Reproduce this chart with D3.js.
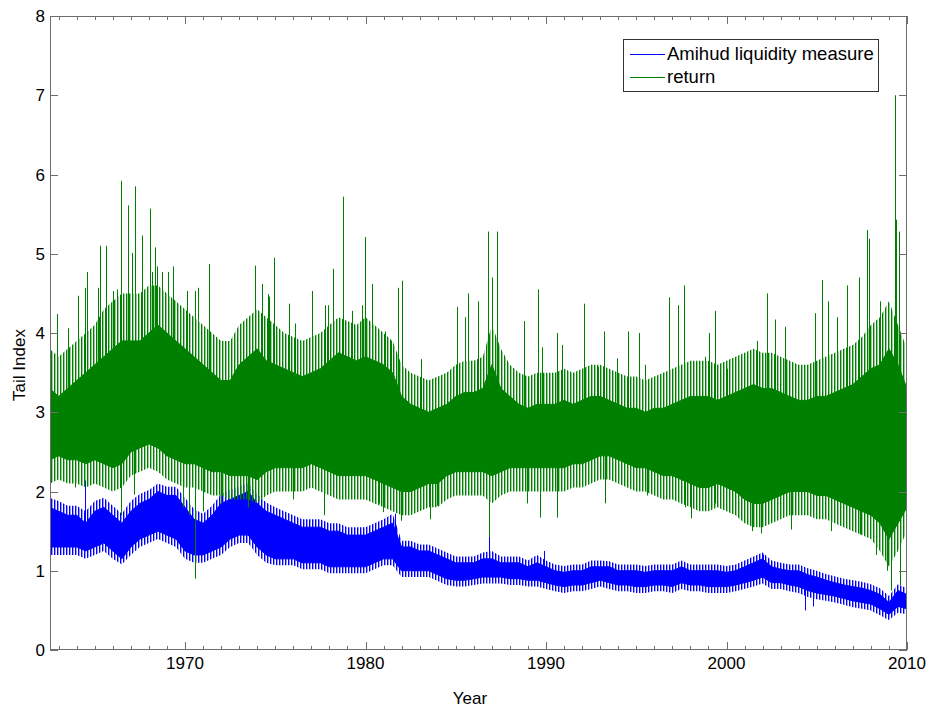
<!DOCTYPE html>
<html><head><meta charset="utf-8">
<script src="https://cdn.jsdelivr.net/npm/d3@7"></script>
<style>body{margin:0;background:#fff} text{font-family:"Liberation Sans",Arial,Helvetica,sans-serif;fill:#000}</style>
</head><body><svg id="c" width="930" height="710"></svg>
<script>
// ---- DATA ----
const halfYears = d3.range(1962.5, 2010.01, 0.5);
// return: dense band top / bottom, per half-year
const greenTop = [3.3,3.2,3.3,3.4,3.5,3.6,3.7,3.8,3.9,3.9,3.9,4.0,4.1,4.0,3.9,3.8,3.7,3.6,3.5,3.4,3.4,3.6,3.7,3.8,
 3.65,3.6,3.55,3.5,3.45,3.5,3.55,3.65,3.75,3.7,3.65,3.7,3.65,3.6,3.5,3.2,3.1,3.05,3.0,3.05,3.1,3.2,3.25,3.25,
 3.3,3.6,3.3,3.2,3.1,3.05,3.1,3.1,3.1,3.15,3.1,3.15,3.2,3.2,3.15,3.1,3.05,3.05,3.0,3.05,3.05,3.1,3.15,3.2,
 3.2,3.2,3.15,3.2,3.25,3.3,3.35,3.3,3.3,3.25,3.2,3.15,3.15,3.2,3.2,3.25,3.3,3.35,3.45,3.55,3.6,3.8,3.6,3.3];
const greenBottom = [2.4,2.45,2.4,2.4,2.35,2.4,2.35,2.3,2.35,2.5,2.55,2.6,2.55,2.45,2.4,2.35,2.35,2.3,2.25,2.25,2.2,2.2,2.2,2.15,
 2.25,2.3,2.3,2.3,2.3,2.35,2.3,2.25,2.2,2.2,2.2,2.2,2.15,2.1,2.05,2.0,2.0,2.05,2.1,2.1,2.2,2.25,2.25,2.25,
 2.25,2.2,2.25,2.3,2.3,2.3,2.3,2.3,2.3,2.3,2.35,2.35,2.4,2.45,2.45,2.4,2.35,2.3,2.3,2.25,2.2,2.2,2.15,2.1,
 2.05,2.05,2.1,2.05,2.0,1.9,1.85,1.85,1.9,1.95,2.0,2.0,2.0,1.95,1.95,1.9,1.85,1.8,1.75,1.7,1.6,1.4,1.6,1.8];
// return: outer (sparser) noise envelope, per half-year
const greenFringeTop = [3.8,3.7,3.8,3.9,4.0,4.1, 4.3,4.4,4.5,4.5,4.5,4.6, 4.6,4.5,4.4,4.3,4.2,4.1, 4.0,3.9,3.9,4.1,4.2,4.3,
 4.2,4.1,4.0,3.95,3.9,3.95, 4.0,4.1,4.2,4.15,4.1,4.2, 4.1,4.0,3.9,3.6,3.5,3.45, 3.4,3.45,3.5,3.6,3.65,3.65,
 3.7,4.1,3.8,3.6,3.5,3.45, 3.5,3.5,3.5,3.55,3.5,3.55, 3.6,3.6,3.55,3.5,3.45,3.45, 3.4,3.45,3.5,3.55,3.6,3.65,
 3.65,3.65,3.6,3.65,3.7,3.75, 3.8,3.75,3.75,3.7,3.65,3.6, 3.6,3.65,3.7,3.75,3.8,3.85, 3.95,4.1,4.2,4.4,4.1,3.8];
const greenFringeBottom = [2.1,2.15,2.1,2.1,2.05,2.1, 2.05,2.0,2.05,2.2,2.25,2.3, 2.25,2.15,2.1,2.05,2.05,2.0, 1.95,1.95,1.9,1.9,1.9,1.85,
 1.95,2.0,2.0,2.0,2.0,2.05, 2.0,1.95,1.9,1.9,1.9,1.9, 1.85,1.8,1.75,1.7,1.7,1.75, 1.8,1.8,1.9,1.95,1.95,1.95,
 1.95,1.85,1.95,2.0,2.0,2.0, 2.0,2.0,2.0,2.0,2.05,2.05, 2.1,2.15,2.15,2.1,2.05,2.0, 2.0,1.95,1.9,1.9,1.85,1.8,
 1.75,1.75,1.8,1.75,1.7,1.6, 1.55,1.55,1.6,1.65,1.7,1.7, 1.7,1.65,1.65,1.6,1.55,1.5, 1.45,1.4,1.25,1.05,1.25,1.5];
// Amihud liquidity measure: band top / bottom, per half-year
const blueTop = [1.8,1.75,1.7,1.7,1.6,1.75,1.8,1.7,1.6,1.75,1.85,1.9,2.0,1.95,1.95,1.8,1.65,1.6,1.7,1.85,1.9,1.95,2.0,1.85,
 1.75,1.7,1.65,1.6,1.55,1.55,1.55,1.5,1.5,1.45,1.45,1.45,1.5,1.55,1.6,1.3,1.3,1.25,1.25,1.2,1.15,1.1,1.1,1.1,
 1.15,1.15,1.1,1.1,1.1,1.05,1.1,1.05,1.0,0.98,1.0,1.0,1.05,1.05,1.05,1.0,1.0,1.0,0.98,1.0,1.0,1.0,1.05,1.0,
 1.0,1.0,1.0,0.98,1.0,1.05,1.1,1.15,1.05,1.02,1.0,1.0,0.95,0.92,0.88,0.85,0.82,0.8,0.78,0.75,0.7,0.6,0.75,0.7];
const blueBottom = [1.3,1.3,1.3,1.3,1.25,1.3,1.35,1.25,1.15,1.3,1.4,1.45,1.5,1.45,1.4,1.25,1.2,1.2,1.25,1.3,1.4,1.45,1.45,1.3,
 1.2,1.15,1.15,1.15,1.1,1.1,1.1,1.05,1.05,1.05,1.05,1.05,1.1,1.15,1.15,1.0,1.0,1.0,1.0,0.95,0.9,0.88,0.88,0.9,
 0.92,0.92,0.92,0.9,0.9,0.88,0.88,0.85,0.82,0.8,0.82,0.82,0.85,0.88,0.85,0.82,0.82,0.8,0.8,0.82,0.82,0.8,0.85,0.82,
 0.82,0.8,0.8,0.8,0.82,0.85,0.88,0.92,0.85,0.85,0.82,0.8,0.75,0.72,0.7,0.68,0.65,0.62,0.6,0.58,0.52,0.45,0.55,0.52];
const blueFringeTop = [1.92,1.88,1.82,1.82,1.75,1.88, 1.92,1.82,1.72,1.88,1.97,2.02, 2.1,2.06,2.06,1.92,1.78,1.72, 1.82,1.97,2.02,2.06,2.1,1.97,
 1.86,1.8,1.75,1.7,1.65,1.65, 1.65,1.6,1.6,1.55,1.55,1.55, 1.6,1.65,1.72,1.38,1.38,1.33, 1.33,1.28,1.23,1.18,1.18,1.18,
 1.23,1.25,1.18,1.18,1.18,1.13, 1.2,1.13,1.08,1.06,1.08,1.08, 1.13,1.13,1.12,1.08,1.08,1.08, 1.06,1.08,1.08,1.08,1.13,1.08,
 1.08,1.08,1.08,1.06,1.08,1.13, 1.18,1.23,1.13,1.1,1.08,1.08, 1.03,1.0,0.96,0.93,0.9,0.88, 0.86,0.83,0.78,0.68,0.83,0.78];
const blueFringeBottom = [1.2,1.2,1.2,1.2,1.15,1.2, 1.25,1.15,1.08,1.2,1.3,1.35, 1.4,1.35,1.3,1.15,1.1,1.1, 1.15,1.2,1.3,1.35,1.35,1.2,
 1.1,1.07,1.07,1.07,1.02,1.02, 1.02,0.97,0.97,0.97,0.97,0.97, 1.02,1.07,1.07,0.92,0.92,0.92, 0.92,0.87,0.82,0.8,0.8,0.82,
 0.84,0.84,0.84,0.82,0.82,0.8, 0.8,0.77,0.74,0.72,0.74,0.74, 0.77,0.8,0.77,0.74,0.74,0.72, 0.72,0.74,0.74,0.72,0.77,0.74,
 0.74,0.72,0.72,0.72,0.74,0.77, 0.8,0.84,0.77,0.77,0.74,0.72, 0.67,0.64,0.62,0.6,0.57,0.54, 0.52,0.5,0.44,0.38,0.47,0.45];
// isolated extremes [year, value]
const greenSpikesUp = [[1962.92,4.24],[1963.53,4.06],[1964.09,4.47],[1964.46,4.57],[1964.55,4.77],[1965.16,4.57],[1965.29,5.1],
 [1965.62,5.1],[1966.03,4.53],[1966.21,4.55],[1966.45,5.92],[1966.86,5.61],[1967.08,5.01],[1967.23,5.85],[1967.6,5.23],
 [1968.06,5.57],[1968.19,4.77],[1968.33,5.08],[1968.43,4.84],[1968.71,4.77],[1969.04,4.77],[1969.36,4.84],[1970.13,4.53],
 [1970.56,4.53],[1970.74,4.57],[1971.33,4.87],[1973.88,4.85],[1974.25,4.62],[1974.58,4.49],[1974.65,4.46],[1974.93,4.95],
 [1975.76,4.37],[1976.09,4.12],[1977.02,4.53],[1977.75,4.35],[1977.94,4.35],[1978.18,4.81],[1978.77,5.72],[1979.23,4.28],
 [1979.79,4.35],[1979.97,5.21],[1980.34,4.62],[1980.71,3.98],[1981.08,4.02],[1981.4,3.9],[1981.82,4.57],[1982.04,4.66],
 [1983.06,3.67],[1985.05,4.33],[1985.52,4.2],[1985.7,4.5],[1986.25,4.4],[1986.81,5.28],[1987.03,4.7],[1987.3,5.28],
 [1988.78,4.15],[1989.57,4.55],[1989.76,3.82],[1990.63,4.0],[1990.87,3.85],[1992.12,4.37],[1992.9,3.57],[1993.21,4.02],
 [1993.91,3.68],[1994.56,4.02],[1995.17,4.0],[1995.48,3.6],[1996.81,4.45],[1997.29,4.35],[1997.66,4.6],[1998.8,3.7],
 [1999.03,4.0],[1999.36,4.28],[2000.01,3.55],[2001.67,3.9],[2002.23,4.5],[2002.69,4.17],[2003.24,4.08],[2004.9,4.25],
 [2005.3,4.67],[2005.65,4.4],[2006.1,4.2],[2006.65,4.6],[2007.35,4.7],[2007.76,5.3],[2007.9,5.19],[2008.5,4.4],
 [2009.35,7.0],[2009.4,5.43],[2009.55,5.28],[2009.8,3.9]];
const greenSpikesDown = [[1963.9,2.05],[1966.45,1.7],[1967.2,1.96],[1969.9,1.8],[1970.2,1.7],[1970.56,0.9],[1971.0,1.75],
 [1972.0,1.85],[1973.5,1.8],[1976.0,1.9],[1977.7,1.7],[1980.75,1.85],[1980.99,1.74],[1981.97,1.63],[1983.58,1.65],
 [1983.95,1.82],[1986.86,1.43],[1988.93,1.85],[1989.67,1.67],[1990.63,1.67],[1993.27,1.85],[1995.57,1.95],[1997.7,1.8],
 [1998.03,1.66],[1999.36,1.85],[2001.4,1.5],[2001.91,1.47],[2003.57,1.52],[2005.8,1.5],[2007.4,1.46],[2008.3,1.2],
 [2008.9,1.0],[2009.1,0.75],[2009.6,0.82]];
const blueSpikes = [[1964.46,2.14],[1981.64,1.72],[1986.84,1.43],[1989.9,1.25],[2002.0,1.2],[2004.35,0.5],[2004.8,0.55],[2008.8,0.4]];
const xTickLabels = [1970, 1980, 1990, 2000, 2010];
const yTickLabels = [0,1,2,3,4,5,6,7,8];
const seriesNames = ["Amihud liquidity measure", "return"];
const seriesColors = ["#0000ff", "#008000"];

// ---- CHART ----
const svg = d3.select("#c");
const L = 50, R = 907, T = 16, B = 650;
const x = d3.scaleLinear().domain([1962.52, 2010]).range([L, R]);
const y = d3.scaleLinear().domain([0, 8]).range([B, T]);
svg.append("rect").attr("width",930).attr("height",710).attr("fill","#fff");
const defs = svg.append("defs");
defs.append("clipPath").attr("id","clip").append("rect")
  .attr("x",L).attr("y",T).attr("width",R-L).attr("height",B-T);
// fine vertical hatching used for the sparse outer envelope of each noisy series
seriesColors.forEach((c,i)=>{
  const p = defs.append("pattern").attr("id","hatch"+i).attr("patternUnits","userSpaceOnUse")
    .attr("width", 3).attr("height", 8);
  p.append("rect").attr("x",0).attr("y",0).attr("width",1.4).attr("height",8).attr("fill",c);
});
const g = svg.append("g").attr("clip-path","url(#clip)");

function band(top, bot, ftop, fbot, ci, upSp, dnSp) {
  const color = seriesColors[ci];
  const rows = halfYears.map((t,i)=>({t, hi: top[i], lo: bot[i], fhi: ftop[i], flo: fbot[i]}));
  g.append("path").datum(rows)
    .attr("d", d3.area().x(d=>x(d.t)).y0(d=>y(d.flo)).y1(d=>y(d.fhi)))
    .attr("fill", `url(#hatch${ci})`);
  g.append("path").datum(rows)
    .attr("d", d3.area().x(d=>x(d.t)).y0(d=>y(d.lo)).y1(d=>y(d.hi)))
    .attr("fill", color).attr("stroke", color).attr("stroke-width", 1);
  const midAt = d3.scaleLinear().domain(halfYears).range(halfYears.map((t,i)=>(top[i]+bot[i])/2));
  g.selectAll(null).data(upSp.concat(dnSp)).join("line")
    .attr("x1",d=>Math.round(x(d[0]))+0.5).attr("x2",d=>Math.round(x(d[0]))+0.5)
    .attr("y1",d=>y(midAt(d[0]))).attr("y2",d=>y(d[1]))
    .attr("stroke",color).attr("stroke-width",1);
}
band(blueTop, blueBottom, blueFringeTop, blueFringeBottom, 0, blueSpikes, []);
band(greenTop, greenBottom, greenFringeTop, greenFringeBottom, 1, greenSpikesUp, greenSpikesDown);

// axes box
const axisColor = "#6e6e6e";
svg.append("rect").attr("x",L+0.5).attr("y",T+0.5).attr("width",R-L-1).attr("height",B-T-1)
  .attr("fill","none").attr("stroke",axisColor).attr("stroke-width",1);
const minorYears = d3.range(1963, 2010);
const ax = svg.append("g").attr("stroke",axisColor).attr("stroke-width",1);
minorYears.forEach(v=>{
  const px = Math.round(x(v))+0.5;
  ax.append("line").attr("x1",px).attr("x2",px).attr("y1",B).attr("y2",B-4);
  ax.append("line").attr("x1",px).attr("x2",px).attr("y1",T).attr("y2",T+4);
});
xTickLabels.forEach(v=>{
  const px = Math.round(x(v))+0.5;
  ax.append("line").attr("x1",px).attr("x2",px).attr("y1",B).attr("y2",B-8);
  ax.append("line").attr("x1",px).attr("x2",px).attr("y1",T).attr("y2",T+8);
  svg.append("text").attr("x",x(v)).attr("y",B+19).attr("text-anchor","middle")
    .attr("font-size",17).text(v);
});
yTickLabels.forEach(v=>{
  const py = Math.round(y(v))+0.5;
  ax.append("line").attr("x1",L).attr("x2",L+8).attr("y1",py).attr("y2",py);
  ax.append("line").attr("x1",R).attr("x2",R-8).attr("y1",py).attr("y2",py);
  svg.append("text").attr("x",L-5).attr("y",y(v)+6).attr("text-anchor","end")
    .attr("font-size",17).text(v);
});
svg.append("text").attr("x",470).attr("y",704).attr("text-anchor","middle").attr("font-size",17).text("Year");
svg.append("text").attr("transform","translate(25,365) rotate(-90)").attr("text-anchor","middle")
  .attr("font-size",17).text("Tail Index");

// legend
const lg = svg.append("g");
lg.append("rect").attr("x",623.5).attr("y",39.5).attr("width",255).attr("height",52)
  .attr("fill","#fff").attr("stroke","#333").attr("stroke-width",1);
seriesNames.forEach((n,i)=>{
  const ly = 54 + i*23;
  lg.append("line").attr("x1",630).attr("x2",665).attr("y1",ly+0.5).attr("y2",ly+0.5)
    .attr("stroke",seriesColors[i]).attr("stroke-width",1);
  lg.append("text").attr("x",667).attr("y",ly+6).attr("font-size",18.5).text(n);
});
</script></body></html>
